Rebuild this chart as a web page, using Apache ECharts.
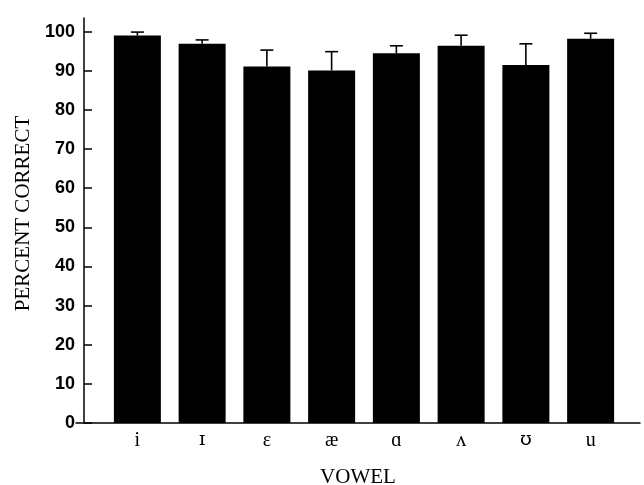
<!DOCTYPE html>
<html>
<head>
<meta charset="utf-8">
<script src="https://cdn.jsdelivr.net/npm/echarts@6/dist/echarts.min.js"></script>
<style>html,body{margin:0;padding:0;background:#fff;}#c{width:644px;height:485px;}</style>
</head>
<body>
<div id="c"></div>
<script>
const categories = ['i', '\u026A', '\u025B', '\u00E6', '\u0251', '\u028C', '\u028A', 'u'];
const percentCorrect = [99.0, 96.9, 91.1, 90.1, 94.5, 96.4, 91.5, 98.2];
const errorUpper = [0.9, 1.0, 4.2, 4.8, 1.9, 2.7, 5.4, 1.4];
const yTicks = [0, 10, 20, 30, 40, 50, 60, 70, 80, 90, 100];

const chart = echarts.init(document.getElementById('c'), null, {renderer: 'canvas'});
const errData = categories.map((c, i) => [i, percentCorrect[i], percentCorrect[i] + errorUpper[i]]);
const djv = new Set(['\u026A', '\u028A']);

chart.setOption({
  animation: false,
  backgroundColor: '#fff',
  grid: [
    {left: 76, right: 4, top: 18, bottom: 62, containLabel: false, outerBoundsMode: 'none'},
    {left: 105, right: 21, top: 18, bottom: 62, containLabel: false, outerBoundsMode: 'none'}
  ],
  xAxis: [
    {
      gridIndex: 0, type: 'value', min: 0, max: 1, position: 'bottom',
      axisLine: {show: true, onZero: false, lineStyle: {color: '#000', width: 1.5}},
      axisTick: {show: false}, axisLabel: {show: false}, splitLine: {show: false},
      name: 'VOWEL', nameLocation: 'middle', nameGap: 44,
      nameTextStyle: {fontFamily: 'Liberation Serif', fontSize: 21, color: '#000'}
    },
    {
      gridIndex: 1, type: 'category', data: categories, position: 'bottom',
      axisLine: {show: false, onZero: false}, axisTick: {show: false},
      axisLabel: {
        fontFamily: 'Liberation Serif', fontSize: 20, color: '#000', margin: 8,
        formatter: function (v) { return djv.has(v) ? '{d|' + v + '}' : v; },
        rich: {d: {fontFamily: 'DejaVu Serif', fontSize: 19, color: '#000'}}
      }
    }
  ],
  yAxis: [
    {gridIndex: 0, type: 'value', min: 0, max: 103.5, show: false},
    {
      gridIndex: 1, type: 'value', min: 0, max: 103.5, offset: 21,
      axisLine: {show: true, lineStyle: {color: '#000', width: 1.5}},
      axisTick: {show: true, inside: true, length: 8, customValues: yTicks, lineStyle: {color: '#000', width: 1.5}},
      axisLabel: {customValues: yTicks, fontFamily: 'Liberation Sans', fontWeight: 'bold', fontSize: 18, color: '#000', margin: 9},
      splitLine: {show: false},
      name: 'PERCENT CORRECT', nameLocation: 'middle', nameGap: 44,
      nameTextStyle: {fontFamily: 'Liberation Serif', fontSize: 21, color: '#000', padding: [0, 0, 0, 14]}
    }
  ],
  series: [
    {
      type: 'bar', xAxisIndex: 1, yAxisIndex: 1, data: percentCorrect,
      barWidth: 47, itemStyle: {color: '#000'}, silent: true
    },
    {
      type: 'custom', xAxisIndex: 1, yAxisIndex: 1, data: errData, silent: true, z: 3,
      renderItem: function (params, api) {
        const x = api.value(0);
        const lo = api.coord([x, api.value(1)]);
        const hi = api.coord([x, api.value(2)]);
        const hw = 6.5;
        const st = {stroke: '#000', lineWidth: 1.6};
        return {
          type: 'group',
          children: [
            {type: 'line', shape: {x1: lo[0], y1: lo[1], x2: hi[0], y2: hi[1]}, style: st},
            {type: 'line', shape: {x1: hi[0] - hw, y1: hi[1], x2: hi[0] + hw, y2: hi[1]}, style: st}
          ]
        };
      }
    }
  ]
});
</script>
</body>
</html>
